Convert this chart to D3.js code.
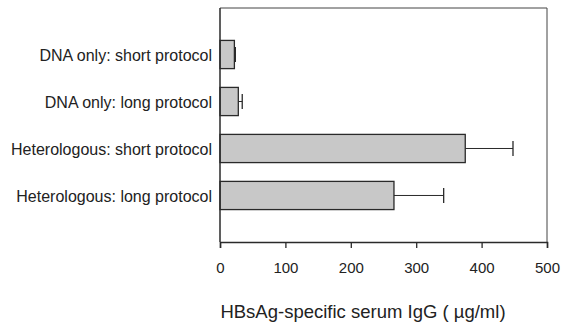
<!DOCTYPE html>
<html><head><meta charset="utf-8">
<script src="https://cdn.jsdelivr.net/npm/d3@7"></script>
<style>body{margin:0;background:#fff}svg{display:block}text{font-family:"Liberation Sans",Arial,sans-serif;fill:#222}</style>
</head><body>
<script>
const categories = ["DNA only: short protocol","DNA only: long protocol","Heterologous: short protocol","Heterologous: long protocol"];
const means = [22, 28, 375, 266];
const errors = [1.5, 6, 73, 76];
const xTicks = [0,100,200,300,400,500];
const xTitle = "HBsAg-specific serum IgG ( \u00b5g/ml)";

const W=566,H=324;
const svg=d3.select("body").append("svg").attr("width",W).attr("height",H);
const x=d3.scaleLinear().domain([0,500]).range([220,547]);
const y=d3.scaleBand().domain(categories).range([8,242]).paddingInner(0.4).paddingOuter(0.69);
const ink="#2a2a2a";
const ff="'Liberation Sans',Arial,sans-serif";

// frame: top and right
svg.append("line").attr("x1",x(0)).attr("x2",x(500)).attr("y1",8).attr("y2",8).attr("stroke","#444").attr("stroke-width",1);
svg.append("line").attr("x1",x(500)).attr("x2",x(500)).attr("y1",8).attr("y2",242).attr("stroke","#444").attr("stroke-width",1);

// bars
svg.selectAll("rect.bar").data(categories).enter().append("rect")
  .attr("x",x(0)).attr("y",d=>y(d)).attr("width",(d,i)=>x(means[i])-x(0)).attr("height",y.bandwidth())
  .attr("fill","#c8c8c8").attr("stroke",ink).attr("stroke-width",1.3);

// error bars
const eb=svg.selectAll("g.eb").data(categories).enter().append("g");
eb.append("line").attr("x1",(d,i)=>x(means[i])).attr("x2",(d,i)=>x(means[i]+errors[i]))
  .attr("y1",d=>y(d)+y.bandwidth()/2).attr("y2",d=>y(d)+y.bandwidth()/2).attr("stroke",ink).attr("stroke-width",1);
eb.append("line").attr("x1",(d,i)=>x(means[i]+errors[i])).attr("x2",(d,i)=>x(means[i]+errors[i]))
  .attr("y1",d=>y(d)+y.bandwidth()/2-7.5).attr("y2",d=>y(d)+y.bandwidth()/2+7.5).attr("stroke",ink).attr("stroke-width",1.3);

// x axis
const xa=svg.append("g").attr("transform","translate(0,242)")
  .call(d3.axisBottom(x).tickValues(xTicks).tickSize(6).tickPadding(14).tickFormat(d3.format("d")));
xa.select(".domain").attr("stroke",ink).attr("stroke-width",1.5);
xa.selectAll(".tick line").attr("stroke",ink).attr("stroke-width",1.3);
xa.selectAll("text").attr("font-size",15).attr("font-family",ff).attr("fill","#222");

// y axis
const ya=svg.append("g").attr("transform","translate(220,0)")
  .call(d3.axisLeft(y).tickSize(0).tickPadding(8));
ya.select(".domain").remove();
ya.append("line").attr("x1",0).attr("x2",0).attr("y1",8).attr("y2",242).attr("stroke",ink).attr("stroke-width",1.5);
ya.selectAll("text").attr("font-size",16).attr("font-family",ff).attr("fill","#222").attr("dy","0.42em");

svg.append("text").attr("x",363).attr("y",318).attr("text-anchor","middle").attr("font-size",18.5).attr("font-family",ff).text(xTitle);
</script>
</body></html>
